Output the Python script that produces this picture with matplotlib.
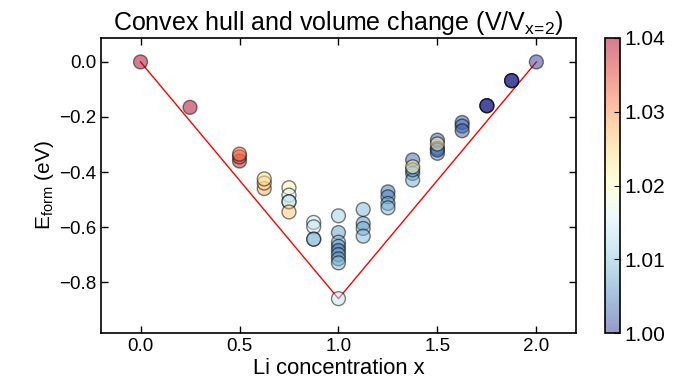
import numpy as np
import matplotlib
matplotlib.use("Agg")
import matplotlib.pyplot as plt

plt.rcParams['font.family'] = ['Liberation Sans', 'DejaVu Sans']
plt.rcParams['mathtext.fontset'] = 'custom'
plt.rcParams['mathtext.rm'] = 'Liberation Sans'
plt.rcParams['mathtext.it'] = 'Liberation Sans'
plt.rcParams['xtick.direction'] = 'in'
plt.rcParams['ytick.direction'] = 'in'

# configurations: Li concentration, formation energy, volume ratio
x = [0.0, 0.25,
     0.5, 0.5, 0.5,
     0.625, 0.625, 0.625,
     0.75, 0.75, 0.75, 0.75, 0.75,
     0.875, 0.875, 0.875, 0.875,
     1.0, 1.0, 1.0, 1.0, 1.0, 1.0, 1.0, 1.0, 1.0,
     1.125, 1.125, 1.125, 1.125,
     1.25, 1.25, 1.25, 1.25,
     1.375, 1.375, 1.375, 1.375, 1.375,
     1.5, 1.5, 1.5, 1.5, 1.5,
     1.625, 1.625, 1.625,
     1.75, 1.75, 1.75,
     1.875, 1.875, 1.875,
     2.0]
e_form = [0.0, -0.165,
          -0.36, -0.345, -0.335,
          -0.46, -0.44, -0.425,
          -0.457, -0.484, -0.508, -0.508, -0.545,
          -0.583, -0.599, -0.644, -0.644,
          -0.559, -0.62, -0.655, -0.67, -0.685, -0.70, -0.715, -0.73, -0.86,
          -0.536, -0.587, -0.605, -0.633,
          -0.472, -0.49, -0.514, -0.53,
          -0.356, -0.405, -0.429, -0.392, -0.381,
          -0.284, -0.314, -0.332, -0.32, -0.298,
          -0.22, -0.233, -0.25,
          -0.159, -0.159, -0.159,
          -0.068, -0.068, -0.068,
          0.0]
vratio = [1.04, 1.04,
          1.038, 1.034, 1.032,
          1.028, 1.025, 1.024,
          1.021, 1.016, 1.017, 1.013, 1.026,
          1.015, 1.014, 1.011, 1.009,
          1.011, 1.007, 1.009, 1.006, 1.004, 1.008, 1.006, 1.009, 1.014,
          1.009, 1.006, 1.008, 1.009,
          1.004, 1.005, 1.007, 1.009,
          1.003, 1.007, 1.008, 1.006, 1.022,
          1.002, 1.004, 1.005, 1.003, 1.022,
          1.002, 1.004, 1.002,
          1.0, 1.0, 1.0,
          1.0, 1.0, 1.0,
          1.0]

# convex hull
hull_x = [0.0, 1.0, 2.0]
hull_e = [0.0, -0.86, 0.0]

fig = plt.figure(figsize=(6.85, 3.9), dpi=100)
ax = fig.add_axes([0.1474, 0.146, 0.6934, 0.7566])
cax = fig.add_axes([0.883, 0.146, 0.022, 0.7566])

sc = ax.scatter(x, e_form, c=vratio, cmap='RdYlBu_r', vmin=1.0, vmax=1.04,
                s=100, alpha=0.5, edgecolors='k', linewidths=1, zorder=3)
ax.plot(hull_x, hull_e, color='red', lw=1, zorder=2)

ax.set_xlim(-0.2, 2.2)
ax.set_ylim(-0.985, 0.087)
ax.set_xticks([0.0, 0.5, 1.0, 1.5, 2.0])
ax.set_yticks([0.0, -0.2, -0.4, -0.6, -0.8])
ax.tick_params(labelsize=13.5, top=True, right=True, length=5, width=1)
for s in ax.spines.values():
    s.set_linewidth(1.2)

ax.set_title('Convex hull and volume change (V/V$_{x\\!=\\!2}$)', fontsize=18)
ax.set_xlabel('Li concentration x', fontsize=15.8, labelpad=2)
ax.set_ylabel('E$_{\\rm form}$ (eV)', fontsize=15, labelpad=2)

cb = fig.colorbar(sc, cax=cax)
cb.set_ticks([1.0, 1.01, 1.02, 1.03, 1.04])
cb.ax.tick_params(labelsize=15, direction='in', length=4)
cb.outline.set_linewidth(1.2)

fig.savefig('out.png', dpi=100)
